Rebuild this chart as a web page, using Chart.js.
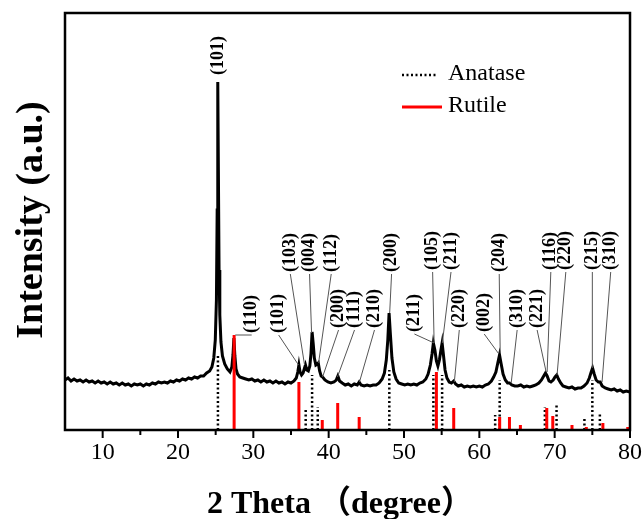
<!DOCTYPE html>
<html>
<head>
<meta charset="utf-8">
<script src="https://cdn.jsdelivr.net/npm/chart.js@4.4.1/dist/chart.umd.min.js"></script>
<style>
  html, body { margin: 0; padding: 0; background: #fff; }
</style>
</head>
<body>
<canvas id="xrd" width="643" height="519"></canvas>
<script>
// XRD scan: [2theta (deg), intensity (a.u.)]
const scan = [
  [5.0, 50], [5.4, 52], [5.8, 49], [6.2, 51], [6.6, 49], [7.0, 50], [7.4, 48], [7.8, 50],
  [8.2, 48], [8.6, 49], [9.0, 47], [9.4, 49], [9.8, 47], [10.2, 48], [10.6, 46], [11.0, 48],
  [11.4, 46], [11.8, 47], [12.2, 45], [12.6, 47], [13.0, 45], [13.4, 46], [13.8, 44], [14.2, 46],
  [14.6, 45], [15.0, 46], [15.4, 44], [15.8, 46], [16.2, 45], [16.6, 47], [17.0, 46], [17.4, 48],
  [17.8, 47], [18.2, 48], [18.6, 47], [19.0, 49], [19.4, 48], [19.8, 50], [20.2, 49], [20.6, 51],
  [21.0, 50], [21.4, 52], [21.8, 51], [22.2, 53], [22.6, 52], [23.0, 54], [23.4, 54], [23.8, 57],
  [24.2, 59], [24.5, 63], [24.75, 72], [24.95, 90], [25.1, 130], [25.2, 220], [25.28, 348], [25.36, 260],
  [25.45, 160], [25.55, 115], [25.7, 88], [25.9, 74], [26.2, 66], [26.55, 61], [26.9, 58], [27.15, 63],
  [27.3, 75], [27.42, 92], [27.55, 74], [27.7, 61], [27.9, 56], [28.2, 53], [28.6, 52], [29.0, 51],
  [29.4, 50], [29.8, 51], [30.2, 49], [30.6, 50], [31.0, 48], [31.4, 50], [31.8, 48], [32.2, 49],
  [32.6, 47], [33.0, 49], [33.4, 47], [33.8, 48], [34.2, 46], [34.6, 48], [35.0, 47], [35.4, 49],
  [35.7, 52], [35.9, 58], [36.05, 65], [36.2, 58], [36.4, 55], [36.6, 57], [36.8, 62], [36.92, 65],
  [37.1, 60], [37.3, 59], [37.5, 64], [37.65, 76], [37.8, 98], [37.95, 86], [38.1, 72], [38.3, 65],
  [38.5, 66], [38.62, 67], [38.8, 59], [39.0, 54], [39.2, 53], [39.5, 50], [39.9, 48], [40.3, 47],
  [40.7, 48], [41.0, 50], [41.22, 54], [41.45, 49], [41.8, 47], [42.2, 45], [42.6, 46], [43.0, 44],
  [43.4, 46], [43.8, 45], [44.05, 48], [44.3, 45], [44.7, 44], [45.1, 45], [45.5, 44], [45.9, 45],
  [46.3, 45], [46.7, 47], [47.1, 51], [47.4, 57], [47.65, 70], [47.85, 90], [48.02, 117], [48.2, 95],
  [48.4, 72], [48.65, 58], [48.95, 51], [49.3, 47], [49.7, 46], [50.1, 45], [50.5, 46], [50.9, 45],
  [51.3, 46], [51.7, 45], [52.1, 47], [52.5, 48], [52.9, 51], [53.2, 56], [53.5, 65], [53.72, 76],
  [53.9, 87], [54.1, 80], [54.3, 69], [54.5, 64], [54.7, 70], [54.9, 80], [55.06, 87], [55.25, 74],
  [55.45, 60], [55.7, 52], [56.0, 48], [56.3, 47], [56.6, 49], [56.85, 46], [57.2, 44], [57.6, 45],
  [58.0, 43], [58.4, 44], [58.8, 43], [59.2, 44], [59.6, 43], [60.0, 44], [60.4, 43], [60.8, 45],
  [61.2, 46], [61.6, 49], [61.9, 53], [62.2, 58], [62.45, 67], [62.68, 75], [62.9, 66], [63.15, 56],
  [63.45, 50], [63.75, 47], [64.0, 47], [64.3, 45], [64.7, 44], [65.1, 44], [65.5, 45], [65.9, 43],
  [66.3, 44], [66.7, 43], [67.1, 44], [67.5, 45], [67.9, 47], [68.25, 50], [68.55, 54], [68.78, 57],
  [69.0, 54], [69.25, 49], [69.5, 48], [69.8, 50], [70.05, 53], [70.28, 55], [70.5, 51], [70.8, 47],
  [71.1, 44], [71.5, 43], [71.9, 42], [72.3, 43], [72.7, 41], [73.1, 42], [73.5, 42], [73.9, 44],
  [74.3, 47], [74.6, 52], [74.85, 58], [75.03, 62], [75.25, 56], [75.5, 50], [75.8, 48], [76.05, 48],
  [76.3, 44], [76.7, 42], [77.1, 41], [77.5, 40], [77.9, 41], [78.3, 39], [78.7, 40], [79.1, 38],
  [79.5, 39], [80.0, 38]
];

// reference patterns (stick heights as drawn)
const anatase2Theta = [25.3, 36.95, 37.8, 38.55, 48.05, 53.9, 55.06, 62.1, 62.7, 68.7, 70.25, 73.95, 75.0, 76.0];
const anataseHeight = [75, 22, 55, 23, 60, 55, 55, 15, 50, 23, 26, 12, 50, 18];
const rutile2Theta = [27.45, 36.05, 39.15, 41.2, 44.05, 54.3, 56.6, 62.7, 64.0, 65.45, 68.95, 69.75, 72.3, 74.2, 76.4, 79.7];
const rutileHeight = [95, 48, 10, 27, 13, 58, 22, 13, 13, 5, 22, 14, 5, 3, 7, 3];

const xTicks = [10, 20, 30, 40, 50, 60, 70, 80];
const xMinorTicks = [15, 25, 35, 45, 55, 65, 75];

// peak labels: text, text anchor [2theta, intensity], leader tip [2theta, intensity] or null
const peakTexts = ['(101)', '(110)', '(101)', '(103)', '(004)', '(112)', '(200)', '(111)', '(210)', '(200)', '(211)',
  '(105)', '(211)', '(220)', '(002)', '(204)', '(310)', '(221)', '(116)', '(220)', '(215)', '(310)'];
const peakTextAt = [[25.41, 355], [29.78, 97], [33.36, 97], [34.91, 158], [37.46, 158], [40.34, 158], [41.31, 102],
  [43.43, 102], [46.08, 102], [48.35, 158], [51.38, 98], [53.8, 160], [56.24, 160], [57.34, 102], [60.65, 98],
  [62.64, 158], [65.02, 102], [67.67, 102], [69.49, 160], [71.48, 160], [75.0, 160], [77.44, 160]];
const peakTips = [null, [27.6, 95], [36.0, 65], [36.8, 65], [37.73, 97], [38.66, 67], [39.19, 53],
  [41.17, 53], [44.09, 48], [48.1, 117], [54.0, 87], [54.0, 87], [55.09, 87], [56.68, 48], [62.5, 77],
  [62.77, 77], [64.23, 47], [68.87, 58], [69.0, 58], [70.32, 55], [75.0, 62], [76.29, 48]];

function sticks(pos, h) {
  const out = [];
  pos.forEach((p, i) => {
    out.push({ x: p, y: 0 }, { x: p, y: h[i] }, { x: p, y: null });
  });
  return out;
}

const serif = '"Liberation Serif", "Times New Roman", serif';

const decorations = {
  id: 'decorations',
  afterDatasetsDraw(chart) {
    const { ctx, chartArea: a, scales: { x, y } } = chart;
    ctx.save();

    // leader lines
    ctx.strokeStyle = '#555';
    ctx.lineWidth = 1;
    peakTexts.forEach((t, i) => {
      const tip = peakTips[i];
      if (!tip) return;
      ctx.beginPath();
      ctx.moveTo(x.getPixelForValue(peakTextAt[i][0]), y.getPixelForValue(peakTextAt[i][1]) + 2);
      ctx.lineTo(x.getPixelForValue(tip[0]), y.getPixelForValue(tip[1]));
      ctx.stroke();
    });

    // peak labels, rotated
    ctx.fillStyle = '#000';
    ctx.font = 'bold 18px ' + serif;
    ctx.textAlign = 'left';
    ctx.textBaseline = 'middle';
    peakTexts.forEach((t, i) => {
      ctx.save();
      ctx.translate(x.getPixelForValue(peakTextAt[i][0]), y.getPixelForValue(peakTextAt[i][1]));
      ctx.rotate(-Math.PI / 2);
      ctx.fillText(t, 0, 0);
      ctx.restore();
    });

    // frame
    ctx.strokeStyle = '#000';
    ctx.lineWidth = 2.5;
    ctx.strokeRect(a.left, a.top, a.right - a.left, a.bottom - a.top);

    // x tick marks (outside)
    ctx.lineWidth = 2;
    xTicks.forEach(v => {
      const px = x.getPixelForValue(v);
      ctx.beginPath(); ctx.moveTo(px, a.bottom); ctx.lineTo(px, a.bottom + 8); ctx.stroke();
    });
    xMinorTicks.forEach(v => {
      const px = x.getPixelForValue(v);
      ctx.beginPath(); ctx.moveTo(px, a.bottom); ctx.lineTo(px, a.bottom + 5); ctx.stroke();
    });

    // legend
    const lx = a.left + 337, ly = a.top + 62;
    ctx.lineWidth = 2.5;
    ctx.setLineDash([2, 2.5]);
    ctx.beginPath(); ctx.moveTo(lx, ly); ctx.lineTo(lx + 36, ly); ctx.stroke();
    ctx.setLineDash([]);
    ctx.strokeStyle = '#ff0000';
    ctx.lineWidth = 3;
    ctx.beginPath(); ctx.moveTo(lx, ly + 32); ctx.lineTo(lx + 40, ly + 32); ctx.stroke();
    ctx.font = '24px ' + serif;
    ctx.textAlign = 'left';
    ctx.textBaseline = 'middle';
    ctx.fillText('Anatase', lx + 46, ly - 1);
    ctx.fillText('Rutile', lx + 46, ly + 31);

    // axis titles
    ctx.font = 'bold 32px ' + serif + ', "Noto Sans CJK SC"';
    ctx.textAlign = 'center';
    ctx.textBaseline = 'alphabetic';
    ctx.fillText('2 Theta （degree）', 340, 513);
    ctx.save();
    ctx.translate(42, 220);
    ctx.rotate(-Math.PI / 2);
    ctx.font = 'bold 38px ' + serif;
    ctx.fillText('Intensity (a.u.)', 0, 0);
    ctx.restore();

    ctx.restore();
  }
};

new Chart(document.getElementById('xrd'), {
  type: 'line',
  data: {
    datasets: [
      {
        label: 'Sample',
        data: scan.map(p => ({ x: p[0], y: p[1] })),
        borderColor: '#000',
        borderWidth: 3,
        pointRadius: 0,
        tension: 0,
        order: 3
      },
      {
        label: 'Anatase',
        data: sticks(anatase2Theta, anataseHeight),
        borderColor: '#000',
        borderWidth: 2.5,
        borderDash: [2, 2.5],
        pointRadius: 0,
        spanGaps: false,
        order: 2
      },
      {
        label: 'Rutile',
        data: sticks(rutile2Theta, rutileHeight),
        borderColor: '#ff0000',
        borderWidth: 3,
        pointRadius: 0,
        spanGaps: false,
        order: 1
      }
    ]
  },
  options: {
    responsive: false,
    animation: false,
    devicePixelRatio: 1,
    layout: { padding: { top: 13, right: 13, left: 0, bottom: 0 } },
    plugins: { legend: { display: false }, tooltip: { enabled: false } },
    scales: {
      x: {
        type: 'linear',
        min: 5,
        max: 80,
        afterFit: s => { s.height = 89; s.paddingLeft = 0; s.paddingRight = 0; },
        afterBuildTicks: s => { s.ticks = xTicks.map(v => ({ value: v })); },
        grid: { display: false, drawTicks: false },
        border: { display: false },
        ticks: {
          color: '#000',
          padding: 8,
          maxRotation: 0,
          font: { family: serif, size: 24 }
        }
      },
      y: {
        type: 'linear',
        min: 0,
        max: 417,
        afterFit: s => { s.width = 65; s.paddingTop = 0; s.paddingBottom = 0; },
        grid: { display: false, drawTicks: false },
        border: { display: false },
        ticks: { display: false }
      }
    }
  },
  plugins: [decorations]
});
</script>
</body>
</html>
